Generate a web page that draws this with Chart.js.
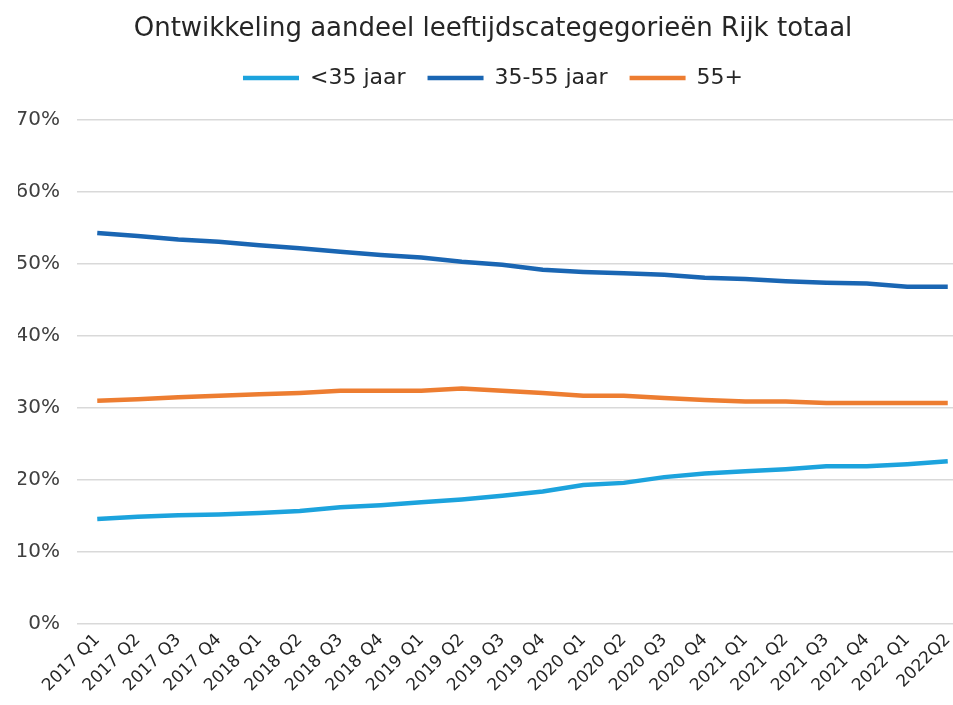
<!DOCTYPE html>
<html>
<head>
<meta charset="utf-8">
<script src="https://cdn.jsdelivr.net/npm/chart.js@4/dist/chart.umd.min.js"></script>
<style>
  html, body { margin: 0; padding: 0; background: #fff; overflow: hidden; }
  #wrap { width: 986px; height: 705px; }
</style>
</head>
<body>
<div id="wrap"><canvas id="leeftijdChart" width="986" height="705"></canvas></div>
<script>
const quarters = [
  '2017 Q1', '2017 Q2', '2017 Q3', '2017 Q4',
  '2018 Q1', '2018 Q2', '2018 Q3', '2018 Q4',
  '2019 Q1', '2019 Q2', '2019 Q3', '2019 Q4',
  '2020 Q1', '2020 Q2', '2020 Q3', '2020 Q4',
  '2021 Q1', '2021 Q2', '2021 Q3', '2021 Q4',
  '2022 Q1', '2022Q2'
];
// aandeel per leeftijdscategorie, in procenten
const jonger35 = [14.6, 14.9, 15.1, 15.2, 15.4, 15.7, 16.2, 16.5, 16.9, 17.3, 17.8, 18.4,
                  19.3, 19.6, 20.4, 20.9, 21.2, 21.5, 21.9, 21.9, 22.2, 22.6];
const tussen35en55 = [54.3, 53.9, 53.4, 53.1, 52.6, 52.2, 51.7, 51.25, 50.9, 50.3, 49.9, 49.2,
                      48.9, 48.7, 48.5, 48.1, 47.9, 47.6, 47.4, 47.3, 46.85, 46.85];
const ouder55 = [31.0, 31.2, 31.5, 31.7, 31.9, 32.1, 32.4, 32.4, 32.4, 32.7, 32.4, 32.1,
                 31.7, 31.7, 31.4, 31.1, 30.9, 30.9, 30.7, 30.7, 30.7, 30.7];
const yTicks = [0, 10, 20, 30, 40, 50, 60, 70];

const fontFam = '"DejaVu Sans", Verdana, sans-serif';

function serie(label, data, kleur) {
  return {
    label: label,
    data: data,
    borderColor: kleur,
    backgroundColor: kleur,
    borderWidth: 4.5,
    pointRadius: 0,
    tension: 0,
    fill: false
  };
}

// wat extra witruimte onder de legenda
const legendaRuimte = {
  id: 'legendaRuimte',
  beforeInit(chart) {
    const fitOrig = chart.legend.fit;
    chart.legend.fit = function () {
      fitOrig.call(this);
      this.height += 21;
    };
  }
};

const ctx = document.getElementById('leeftijdChart');
new Chart(ctx, {
  type: 'line',
  data: {
    labels: quarters,
    datasets: [
      serie('<35 jaar', jonger35, '#1ca3dd'),
      serie('35-55 jaar', tussen35en55, '#1a66b3'),
      serie('55+', ouder55, '#ed7d31')
    ]
  },
  plugins: [legendaRuimte],
  options: {
    responsive: false,
    animation: false,
    layout: { padding: { left: 18, right: 18, top: 0, bottom: 0 } },
    plugins: {
      title: {
        display: true,
        text: 'Ontwikkeling aandeel leeftijdscategegorieën Rijk totaal',
        color: '#262626',
        font: { family: fontFam, size: 26, weight: 'normal' },
        padding: { top: 13, bottom: 0 }
      },
      legend: {
        labels: {
          usePointStyle: true,
          pointStyle: 'line',
          pointStyleWidth: 56,
          boxHeight: 18,
          color: '#262626',
          font: { family: fontFam, size: 22 },
          padding: 22
        }
      },
      tooltip: { enabled: false }
    },
    scales: {
      x: {
        offset: true,
        grid: { display: false, drawTicks: false },
        border: { display: false },
        ticks: {
          minRotation: 45,
          maxRotation: 45,
          autoSkip: false,
          color: '#262626',
          padding: 6,
          font: { family: fontFam, size: 17 }
        },
        afterFit: function (scale) { scale.height = 81; }
      },
      y: {
        min: 0,
        max: 70,
        afterBuildTicks: function (scale) {
          scale.ticks = yTicks.map(v => ({ value: v }));
        },
        grid: { color: '#d9d9d9', lineWidth: 1.5, drawTicks: false },
        border: { display: false },
        ticks: {
          color: '#404040',
          padding: 17,
          font: { family: fontFam, size: 20 },
          callback: v => v + '%'
        },
        afterFit: function (scale) {
          scale.width = 59;
          // plotgebied begint nooit hoger dan y = 120
          scale.paddingTop = 120;
        }
      }
    }
  }
});
</script>
</body>
</html>
